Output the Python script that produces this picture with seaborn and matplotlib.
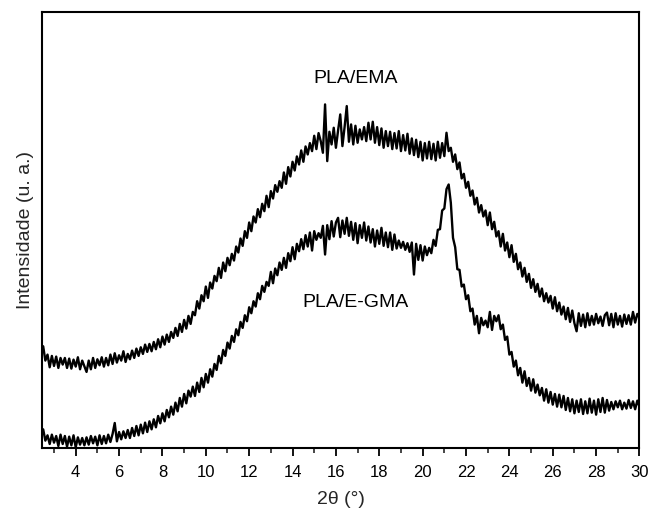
import numpy as np
import pandas as pd
import matplotlib
matplotlib.use("Agg")
import matplotlib.pyplot as plt
import seaborn as sns
from matplotlib.ticker import MultipleLocator

# 2theta scan grid (degrees), 0.1 deg step from 2.5 to 30.0
two_theta = np.round(np.arange(2.5, 30.0001, 0.1), 1)

# PLA/EMA intensity (a.u.)
pla_ema = [
    305, 262, 280, 242, 276, 246, 274, 240, 270, 250,
    270, 240, 268, 238, 265, 244, 272, 236, 262, 245,
    228, 262, 236, 270, 240, 266, 248, 272, 244, 270,
    248, 280, 252, 284, 256, 278, 262, 290, 258, 282,
    266, 292, 270, 298, 276, 302, 282, 310, 288, 312,
    290, 318, 296, 326, 302, 334, 310, 340, 318, 348,
    330, 360, 336, 372, 348, 384, 358, 396, 372, 408,
    398, 440, 418, 458, 440, 484, 450, 496, 478, 516,
    500, 540, 510, 556, 530, 570, 548, 582, 562, 604,
    586, 628, 606, 650, 630, 676, 650, 694, 676, 716,
    692, 732, 710, 756, 722, 770, 748, 788, 768, 800,
    780, 826, 792, 842, 814, 858, 832, 874, 850, 892,
    858, 904, 880, 914, 890, 936, 896, 944, 920, 885,
    1030, 860, 948, 910, 960, 900, 952, 1000, 905, 962,
    1025, 918, 970, 910, 966, 915, 955, 925, 962, 920,
    975, 925, 978, 915, 962, 908, 958, 900, 950, 905,
    948, 896, 944, 898, 950, 890, 938, 892, 942, 882,
    928, 878, 924, 872, 918, 862, 914, 868, 918, 866,
    912, 862, 918, 870, 914, 875, 945, 890, 900, 858,
    880, 836, 856, 808, 822, 780, 798, 756, 772, 730,
    750, 706, 728, 694, 712, 668, 706, 656, 678, 634,
    650, 604, 642, 592, 616, 572, 608, 558, 582, 536,
    556, 514, 540, 498, 522, 480, 506, 468, 492, 454,
    478, 440, 464, 436, 456, 418, 452, 410, 436, 400,
    424, 386, 420, 378, 412, 374, 350, 404, 366, 400,
    362, 404, 368, 396, 370, 402, 374, 394, 366, 398,
    406, 368, 402, 362, 404, 370, 396, 364, 400, 372,
    398, 370, 408, 376, 402, 390,
]

# PLA/E-GMA intensity (a.u.)
pla_egma = [
    56, 22, 38, 12, 40, 16, 36, 6, 40, 12,
    36, 4, 34, 8, 38, 2, 32, 10, 30, 8,
    32, 10, 36, 14, 34, 8, 38, 12, 36, 14,
    40, 18, 42, 75, 20, 48, 26, 50, 30, 54,
    30, 60, 36, 66, 38, 70, 44, 76, 48, 80,
    56, 86, 62, 96, 74, 104, 80, 114, 92, 124,
    100, 136, 110, 150, 124, 162, 134, 172, 154, 184,
    156, 196, 168, 210, 182, 222, 196, 236, 214, 252,
    234, 276, 254, 294, 276, 316, 298, 336, 318, 356,
    338, 378, 360, 398, 380, 422, 404, 440, 424, 464,
    446, 486, 468, 498, 486, 528, 494, 538, 518, 556,
    534, 570, 540, 584, 560, 602, 566, 612, 590, 626,
    596, 638, 604, 646, 592, 650, 624, 644, 630, 666,
    580, 668, 626, 680, 634, 676, 690, 632, 682, 642,
    690, 636, 678, 624, 674, 614, 668, 630, 676, 622,
    664, 616, 656, 604, 652, 612, 660, 606, 646, 602,
    646, 594, 640, 598, 622, 600, 618, 594, 614, 588,
    616, 520, 612, 564, 608, 562, 604, 578, 600, 584,
    624, 606, 654, 656, 712, 718, 776, 790, 735, 630,
    602, 536, 534, 484, 490, 446, 458, 410, 418, 370,
    396, 344, 390, 368, 382, 362, 408, 354, 396, 380,
    398, 356, 370, 324, 334, 280, 288, 244, 262, 218,
    240, 196, 230, 186, 210, 172, 206, 166, 190, 158,
    180, 142, 176, 136, 168, 130, 162, 124, 160, 122,
    156, 114, 150, 110, 146, 104, 142, 108, 146, 102,
    140, 104, 148, 106, 142, 100, 146, 108, 150, 106,
    144, 112, 138, 116, 140, 122, 142, 116, 136, 118,
    144, 120, 140, 116, 142, 124,
]

series_names = ["PLA/EMA", "PLA/E-GMA"]
label_x = [16.9, 16.9]
label_y = [1108, 435]
major_ticks = [4, 6, 8, 10, 12, 14, 16, 18, 20, 22, 24, 26, 28, 30]

df = pd.concat([
    pd.DataFrame({"x": two_theta, "y": pla_ema, "s": series_names[0]}),
    pd.DataFrame({"x": two_theta, "y": pla_egma, "s": series_names[1]}),
])

sns.set_style("ticks")
plt.rcParams["font.family"] = ["Liberation Sans", "DejaVu Sans"]

fig = plt.figure(figsize=(6.52, 5.13), dpi=100)
ax = fig.add_axes([0.0649, 0.1267, 0.9159, 0.8499])

sns.lineplot(data=df, x="x", y="y", hue="s", units="s", estimator=None,
             palette=["black", "black"], linewidth=1.7, legend=False,
             sort=False, ax=ax)

for name, lx, ly in zip(series_names, label_x, label_y):
    ax.text(lx, ly, name, ha="center", va="center", fontsize=14, color="black")

ax.set_xlim(2.46, 30)
ax.set_ylim(0, 1307)
ax.set_xticks(major_ticks)
ax.xaxis.set_minor_locator(MultipleLocator(1))
ax.set_yticks([])
ax.tick_params(axis="x", which="major", direction="out", length=6, width=1.3,
               labelsize=12, pad=6, colors="black")
ax.tick_params(axis="x", which="minor", direction="out", length=3.5, width=1.2)
for sp in ax.spines.values():
    sp.set_visible(True)
    sp.set_linewidth(1.5)
    sp.set_color("black")

ax.set_xlabel("2θ (°)", fontsize=14, labelpad=8)
ax.set_ylabel("Intensidade (u. a.)", fontsize=14, labelpad=6)

fig.savefig("out.png", dpi=100)
